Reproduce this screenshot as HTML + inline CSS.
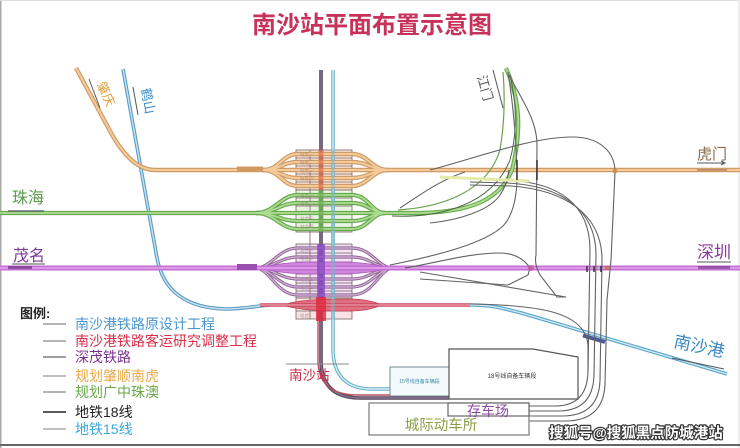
<!DOCTYPE html>
<html><head><meta charset="utf-8">
<style>
html,body{margin:0;padding:0;background:#fff;}
svg{display:block;}
text{font-family:"Liberation Sans","Noto Sans CJK SC",sans-serif;}
</style></head><body>
<svg width="740" height="448" viewBox="0 0 740 448" xmlns="http://www.w3.org/2000/svg">
<rect width="740" height="448" fill="#fff"/>
<rect x="0" y="0" width="1.5" height="448" fill="#aaa"/>
<rect x="0" y="0" width="740" height="1" fill="#ddd"/>
<rect x="738" y="0" width="2" height="448" fill="#eee"/>
<rect x="0" y="444" width="740" height="2" fill="#666"/>

<!-- Title -->
<text x="372" y="33" text-anchor="middle" font-size="24" font-weight="700" fill="#c8325a" font-family="'Noto Sans CJK SC',sans-serif">南沙站平面布置示意图</text>

<!-- Station platform boxes -->
<g stroke="#7a6060" stroke-width="0.8">
  <rect x="296" y="150" width="56" height="40" fill="#fbebdc"/>
  <rect x="296" y="190" width="56" height="42" fill="#e9f5e2"/>
  <rect x="296" y="244" width="56" height="54" fill="#f3e2f4"/>
  <rect x="296" y="298" width="56" height="21" fill="#f8e2e6"/>
  <g fill="none">
    <path d="M296 158H352M296 166H352M296 174H352M296 182H352"/>
    <path d="M296 198H352M296 206H352M296 214H352M296 222H352"/>
    <path d="M296 253H352M296 262H352M296 274H352M296 283H352M296 291H352"/>
    <path d="M296 311H352"/>
    <path d="M310 150V319M333 150V319"/>
  </g>
</g>

<defs>
  <path id="or0" d="M76 68 L110 131 Q131 170 155 170 L740 170"/>
  <path id="or1" d="M263 170 C280 170 282 154 298 154 L352 154 C368 154 372 170 388 170"/>
  <path id="or2" d="M263 170 C280 170 282 162 298 162 L352 162 C368 162 372 170 388 170"/>
  <path id="or3" d="M263 170 C280 170 282 178 298 178 L352 178 C368 178 372 170 388 170"/>
  <path id="or4" d="M263 170 C280 170 282 186 298 186 L352 186 C368 186 372 170 388 170"/>
  <path id="gr0" d="M0 213 L420 213 C470 212 500 200 512 170 C522 130 520 100 506 68"/>
  <path id="gr1" d="M256 213 C275 213 280 195 298 195 L352 195 C368 195 372 213 385 213"/>
  <path id="gr2" d="M256 213 C275 213 280 203 298 203 L352 203 C368 203 372 213 385 213"/>
  <path id="gr3" d="M256 213 C275 213 280 221 298 221 L352 221 C368 221 372 213 385 213"/>
  <path id="gr4" d="M256 213 C275 213 280 229 298 229 L352 229 C368 229 372 213 385 213"/>
  <path id="pu0" d="M0 268 L740 268"/>
  <path id="pu1" d="M255 268 C272 268 278 248 298 248 L352 248 C372 248 378 268 393 268"/>
  <path id="pu2" d="M255 268 C274 268 280 257 298 257 L352 257 C370 257 376 268 393 268"/>
  <path id="pu3" d="M255 268 C274 268 280 279 298 279 L352 279 C370 279 376 268 393 268"/>
  <path id="pu4" d="M255 268 C272 268 278 287 298 287 L352 287 C372 287 378 268 393 268"/>
  <path id="pu5" d="M255 268 C270 268 276 295 298 295 L352 295 C374 295 380 268 393 268"/>
  <path id="bl0" d="M123 69 L157 258 C163 290 185 308 225 309 C245 309 255 306 270 305"/>
  <path id="rd0" d="M260 305 L470 305"/>
  <path id="cy0" d="M470 305 C495 305 505 309 525 314 L727 374"/>
  <path id="s18" d="M321 70 L321 362 Q322 398 360 398 L449 398"/>
  <path id="s15" d="M333 70 L333 352 Q335 389 372 389 L392 389"/>
</defs>

<!-- 18 and 15 lines -->
<use href="#s18" fill="none" stroke="#55465c" stroke-width="3.6"/>
<use href="#s18" fill="none" stroke="#8a7492" stroke-width="1.4"/>
<path d="M318 300 L318 362 Q319 395 358 395 L449 395" fill="none" stroke="#b8505c" stroke-width="1.4"/>
<use href="#s15" fill="none" stroke="#68aec6" stroke-width="3.4"/>
<use href="#s15" fill="none" stroke="#d4eff7" stroke-width="1.4"/>

<!-- Blue 鹤山 line -->
<use href="#bl0" fill="none" stroke="#5b9bc2" stroke-width="3.6"/>
<use href="#bl0" fill="none" stroke="#c6e3f2" stroke-width="1.4"/>

<!-- Orange -->
<g fill="none" stroke="#cf9c68" stroke-width="4.4">
  <use href="#or0"/><use href="#or1"/><use href="#or2"/><use href="#or3"/><use href="#or4"/>
</g>
<g fill="none" stroke="#f4cb98" stroke-width="2">
  <use href="#or0"/><use href="#or1"/><use href="#or2"/><use href="#or3"/><use href="#or4"/>
</g>
<path d="M237 169 L263 169" stroke="#d09a60" stroke-width="5"/>

<!-- Green -->
<g fill="none" stroke="#68aa50" stroke-width="4.2">
  <use href="#gr0"/><use href="#gr1"/><use href="#gr2"/><use href="#gr3"/><use href="#gr4"/>
</g>
<g fill="none" stroke="#aedd92" stroke-width="1.8">
  <use href="#gr0"/><use href="#gr1"/><use href="#gr2"/><use href="#gr3"/><use href="#gr4"/>
</g>
<path d="M392 216 C440 218 492 205 510 160 C518 130 516 100 510 75" fill="none" stroke="#4a6a40" stroke-width="1"/>
<path d="M398 210 C445 207 488 190 500 150 C505 120 505 95 503 72" fill="none" stroke="#6aa050" stroke-width="1.2"/>

<!-- Purple -->
<g fill="none" stroke="#8a6a8c" stroke-width="3.2">
  <use href="#pu1"/><use href="#pu2"/><use href="#pu3"/><use href="#pu4"/><use href="#pu5"/>
</g>
<g fill="none" stroke="#dcb0e4" stroke-width="1.2">
  <use href="#pu1"/><use href="#pu2"/><use href="#pu3"/><use href="#pu4"/><use href="#pu5"/>
</g>
<path d="M258 268 C285 262 300 262 320 262 L340 262 C360 262 375 264 392 268 C375 272 360 274 340 274 L320 274 C300 274 285 274 258 268Z" fill="#cf86dc" stroke="#a858c0" stroke-width="0.8"/>
<use href="#pu0" fill="none" stroke="#c270d2" stroke-width="5"/>
<use href="#pu0" fill="none" stroke="#e6a6ee" stroke-width="1.6"/>
<path d="M237 267 L257 267" stroke="#9a50b0" stroke-width="6"/>

<!-- Red -->
<path d="M283 305 C300 299 330 299 350 299 C365 299 375 302 382 305 C375 308 365 311 350 311 C330 311 300 311 283 305Z" fill="#e07080" stroke="#c03a50" stroke-width="0.8"/>
<use href="#rd0" fill="none" stroke="#c84860" stroke-width="3.6"/>
<use href="#rd0" fill="none" stroke="#f0a0aa" stroke-width="1.3"/>
<use href="#cy0" fill="none" stroke="#5aa6cc" stroke-width="3.6"/>
<use href="#cy0" fill="none" stroke="#d2ecf6" stroke-width="1.3"/>
<path d="M583 335.5 L605 342" stroke="#4a5aa0" stroke-width="4"/>

<!-- Vertical line tints over station -->
<rect x="318.5" y="150" width="5" height="40" fill="#e07350" opacity="0.75"/>
<rect x="318.5" y="190" width="5" height="42" fill="#70b058" opacity="0.75"/>
<rect x="317" y="244" width="8" height="54" fill="#8a48c4" opacity="0.8"/>
<rect x="316" y="297" width="10" height="24" fill="#e0283c" opacity="0.8"/>
<rect x="331" y="150" width="4" height="170" fill="#7ab8c8" opacity="0.5"/>

<!-- tiny platform labels -->
<g font-size="4.5" fill="#a08080" opacity="0.8">
  <text x="300" y="156">站台一</text><text x="300" y="164">站台二</text><text x="300" y="172">站台三</text><text x="300" y="180">站台四</text>
  <text x="300" y="197">站台一</text><text x="300" y="205">站台二</text><text x="300" y="220">站台三</text><text x="300" y="228">站台四</text>
  <text x="300" y="252">站台一</text><text x="300" y="260">站台二</text><text x="300" y="281">站台三</text><text x="300" y="289">站台四</text>
  <text x="300" y="317">站台</text>
</g>

<!-- Gray connector lines -->
<g fill="none" stroke="#626262" stroke-width="1.1">
  <path d="M430 170 C470 160 530 137 572 137 C600 137 615 152 615 172 L611 260 L607 300 L605 385 Q603 421 565 421 L529 421"/>
  <path d="M470 304 C540 305 585 312 588 345"/>
  <path d="M470 179 L505 180 C560 182 590 205 590 250 L588 372 Q587 406 555 406 L529 406"/>
  <path d="M470 182 L508 183 C562 186 596 210 596 255 L594 375 Q593 411 558 411 L529 411"/>
  <path d="M470 185 L511 186 C566 190 602 215 602 260 L600 380 Q599 416 562 416 L529 416"/>
  <path d="M509 75 C522 100 537 120 537 145 L536 255 Q534 264 540 275 L557 297 L566 297"/>
  <path d="M390 265 C440 255 485 243 503 226 Q516 212 517 180 C517 150 514 110 508 72"/>
  <path d="M430 223 C460 220 490 210 500 195 Q507 185 509 170"/>
  <path d="M400 208 C420 195 440 180 465 172"/>
  <path d="M405 268 C440 262 470 253 500 253 C515 253 525 260 530 268 L528 275 L508 285"/>
  <path d="M420 272 L566 297"/>
  <path d="M420 279 C450 281 480 283 508 285"/>
  <path d="M588 340 L588 372"/>
</g>
<path d="M440 177 L530 181" stroke="#e4eaa8" stroke-width="3" fill="none"/>
<g stroke="#333" stroke-width="1.5">
  <path d="M517 160V180M537 160V180M587 266V272M594 266V272M601 266V272"/>
</g>
<circle cx="531" cy="268" r="3" fill="#c050a0" opacity="0.7"/>
<circle cx="607" cy="268" r="2.5" fill="#d06040" opacity="0.7"/>
<circle cx="615" cy="171" r="2.5" fill="#d09040" opacity="0.8"/>

<!-- Bottom boxes -->
<rect x="390" y="367" width="59" height="29" fill="#f4fafb" stroke="#7a8a90" stroke-width="1"/>
<text x="419.5" y="383" text-anchor="middle" font-size="5" fill="#3a8aaa">15号线自备车辆段</text>
<path d="M449 349 L533 349 L578 357 L578 399 L449 399 Z" fill="#fff" stroke="#555" stroke-width="1.2"/>
<text x="512" y="378" text-anchor="middle" font-size="6" fill="#333">18号线自备车辆段</text>
<rect x="369" y="403" width="160" height="32" fill="#fff" stroke="#7a7a7a" stroke-width="1.2"/>
<rect x="448" y="403" width="81" height="13" fill="#fff" stroke="#666" stroke-width="1.2"/>
<text x="488" y="416" text-anchor="middle" font-size="14" fill="#8a4a9c">存车场</text>
<text x="441" y="430" text-anchor="middle" font-size="14.5" fill="#8aa046">城际动车所</text>

<!-- 南沙站 -->
<line x1="286" y1="364" x2="349" y2="364" stroke="#888" stroke-width="1"/>
<text x="289" y="380" font-size="13.5" fill="#c8304a">南沙站</text>

<!-- Direction labels -->
<text x="12" y="203" font-size="16" fill="#5a9a4c">珠海</text>
<rect x="8" y="210" width="36" height="2" fill="#556" opacity="0.6"/>
<text x="13" y="261" font-size="16" fill="#7a3a96">茂名</text>
<line x1="12" y1="264" x2="45" y2="264" stroke="#555" stroke-width="1"/>
<rect x="8" y="266" width="24" height="3" fill="#703080" opacity="0.7"/>
<text x="697" y="159" font-size="15" fill="#8a6a4a">虎门</text>
<line x1="697" y1="163" x2="724" y2="163" stroke="#555" stroke-width="1"/>
<path d="M721 161 L725 163 L721 165" fill="none" stroke="#555" stroke-width="1"/>
<rect x="697" y="169" width="30" height="2" fill="#a07050" opacity="0.6"/>
<text x="697" y="258" font-size="17" fill="#8a3a9c">深圳</text>
<line x1="697" y1="262" x2="731" y2="262" stroke="#555" stroke-width="1"/>
<rect x="698" y="266" width="32" height="3" fill="#703080" opacity="0.6"/>
<text transform="translate(698,352) rotate(12)" text-anchor="middle" font-size="17" fill="#3a86c0">南沙港</text>
<line x1="672" y1="358" x2="724" y2="369" stroke="#555" stroke-width="1"/>

<line x1="89" y1="79" x2="100" y2="108" stroke="#555" stroke-width="1"/>
<text transform="translate(106,94) rotate(65)" text-anchor="middle" dominant-baseline="central" font-size="13" fill="#e0a040">肇庆</text>
<line x1="133" y1="87" x2="138" y2="115" stroke="#555" stroke-width="1"/>
<text transform="translate(148,101) rotate(80)" text-anchor="middle" dominant-baseline="central" font-size="13" fill="#3a8ac8">鹤山</text>
<line x1="493" y1="70" x2="503" y2="108" stroke="#555" stroke-width="1"/>
<text transform="translate(485,88) rotate(74)" text-anchor="middle" dominant-baseline="central" font-size="13" fill="#555">江门</text>

<!-- Legend -->
<text x="20" y="318" font-size="13" font-weight="700" fill="#222">图例:</text>
<g stroke-width="1.2">
  <line x1="43" y1="324" x2="66" y2="324" stroke="#888"/>
  <line x1="43" y1="341" x2="66" y2="341" stroke="#888"/>
  <line x1="43" y1="357" x2="66" y2="357" stroke="#666"/>
  <line x1="43" y1="376" x2="66" y2="376" stroke="#999"/>
  <line x1="43" y1="392" x2="66" y2="392" stroke="#888"/>
  <line x1="43" y1="412" x2="66" y2="412" stroke="#222" stroke-width="1.6"/>
  <line x1="43" y1="429" x2="66" y2="429" stroke="#999"/>
</g>
<g font-size="14">
  <text x="75" y="329" fill="#4a96d0">南沙港铁路原设计工程</text>
  <text x="75" y="346" fill="#d8304a">南沙港铁路客运研究调整工程</text>
  <text x="75" y="362" fill="#7a3090">深茂铁路</text>
  <text x="75" y="381" fill="#e8a848">规划肇顺南虎</text>
  <text x="75" y="397" fill="#6aa84a">规划广中珠澳</text>
  <text x="75" y="417" fill="#222">地铁18线</text>
  <text x="75" y="434" fill="#3aa8d8">地铁15线</text>
</g>

<!-- Watermark -->
<text x="636" y="438" text-anchor="middle" font-size="14.5" font-weight="700" fill="#fff" stroke="#333" stroke-width="2.4" paint-order="stroke" stroke-linejoin="round">搜狐号@搜狐黑点防城港站</text>
</svg>
</body></html>
